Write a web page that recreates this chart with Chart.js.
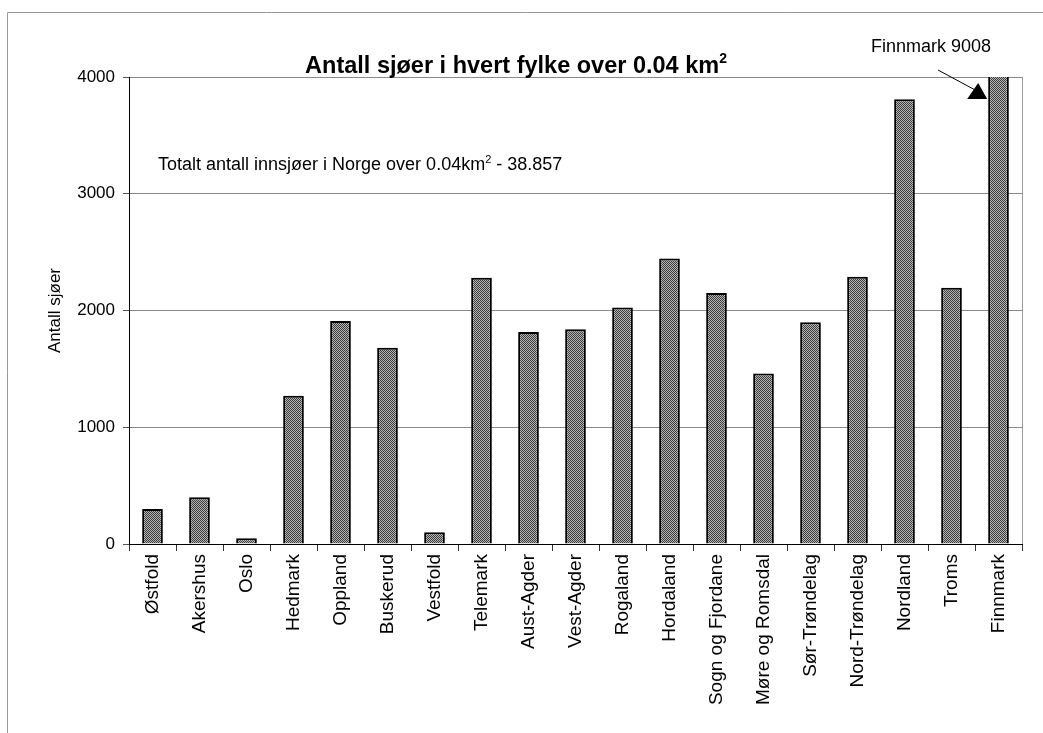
<!DOCTYPE html>
<html><head><meta charset="utf-8">
<script src="https://cdn.jsdelivr.net/npm/chart.js@4"></script>
<style>html,body{margin:0;padding:0;background:#fff}#wrap{width:1043px;height:733px;position:relative}</style>
</head><body><div id="wrap"><canvas id="c" width="1043" height="733"></canvas></div>
<script>
const categories = ['Østfold','Akershus','Oslo','Hedmark','Oppland','Buskerud','Vestfold','Telemark','Aust-Agder','Vest-Agder','Rogaland','Hordaland','Sogn og Fjordane','Møre og Romsdal','Sør-Trøndelag','Nord-Trøndelag','Nordland','Troms','Finnmark'];
const lakeCounts = [300,400,50,1270,1910,1680,100,2280,1815,1840,2025,2445,2150,1460,1900,2290,3810,2195,9008];
const yTicks = [0,1000,2000,3000,4000];
const titleText = 'Antall sjøer i hvert fylke over 0.04 km';
const noteText = 'Totalt antall innsjøer i Norge over 0.04km';
const noteTail = ' - 38.857';
const calloutText = 'Finnmark 9008';
const yTitle = 'Antall sjøer';

const FONT = "'Liberation Sans', Arial, sans-serif";

function makePattern() {
  const p = document.createElement('canvas');
  p.width = 2; p.height = 2;
  const g = p.getContext('2d');
  g.fillStyle = '#b4b4b4'; g.fillRect(0,0,2,2);
  g.fillStyle = '#3c3c3c'; g.fillRect(0,0,1,1); g.fillRect(1,1,1,1);
  return document.getElementById('c').getContext('2d').createPattern(p,'repeat');
}

function drawSup(ctx, x, y, base, sup, baseFont, supFont, rise, align) {
  ctx.font = baseFont;
  const w1 = ctx.measureText(base).width;
  ctx.font = supFont;
  const w2 = ctx.measureText(sup).width;
  let sx = x;
  if (align === 'center') sx = x - (w1 + w2) / 2;
  ctx.textAlign = 'left';
  ctx.font = baseFont;
  ctx.fillText(base, sx, y);
  ctx.font = supFont;
  ctx.fillText(sup, sx + w1, y - rise);
  return sx + w1 + w2;
}

const extras = {
  id: 'extras',
  afterDraw(chart) {
    const ctx = chart.ctx;
    const a = chart.chartArea;
    ctx.save();
    ctx.strokeStyle = '#9a9a9a'; ctx.lineWidth = 1;
    ctx.beginPath(); ctx.moveTo(7.5, 733); ctx.lineTo(7.5, 12.5); ctx.lineTo(1043, 12.5); ctx.stroke();
    ctx.beginPath(); ctx.moveTo(Math.round(a.right) + 0.5, a.top); ctx.lineTo(Math.round(a.right) + 0.5, a.bottom); ctx.stroke();
    ctx.fillStyle = '#000';
    ctx.textBaseline = 'alphabetic';
    drawSup(ctx, 516, 73, titleText, '2', 'bold 23.5px ' + FONT, 'bold 14px ' + FONT, 10, 'center');
    const end = drawSup(ctx, 158, 170, noteText, '2', '18px ' + FONT, '11px ' + FONT, 7, 'left');
    ctx.font = '18px ' + FONT;
    ctx.fillText(noteTail, end, 170);
    ctx.font = '18px ' + FONT;
    ctx.fillText(calloutText, 871, 52);
    const meta = chart.getDatasetMeta(0).data[categories.length - 1];
    const barLeft = meta.x - meta.width / 2;
    const tipX = barLeft - 1, tipY = a.top + 22;
    ctx.strokeStyle = '#000'; ctx.lineWidth = 1;
    ctx.beginPath(); ctx.moveTo(938, 70); ctx.lineTo(tipX - 12, tipY - 9); ctx.stroke();
    ctx.beginPath();
    ctx.moveTo(tipX - 20, tipY);
    ctx.lineTo(tipX - 9, tipY - 16);
    ctx.lineTo(tipX, tipY);
    ctx.closePath(); ctx.fill();
    ctx.restore();
  }
};

new Chart(document.getElementById('c'), {
  type: 'bar',
  data: {
    labels: categories,
    datasets: [{
      data: lakeCounts,
      backgroundColor: makePattern(),
      borderColor: '#000',
      borderWidth: 2,
      borderSkipped: 'bottom',
      barPercentage: 0.44,
      categoryPercentage: 1
    }]
  },
  options: {
    responsive: false,
    devicePixelRatio: 1,
    animation: false,
    layout: { padding: { top: 77, right: 21, left: 0, bottom: 0 } },
    plugins: { legend: { display: false }, title: { display: false }, tooltip: { enabled: false } },
    scales: {
      y: {
        min: 0, max: 4000,
        afterBuildTicks: s => { s.ticks = yTicks.map(v => ({ value: v })); },
        ticks: { font: { family: FONT, size: 17 }, color: '#000', padding: 8, callback: v => String(v) },
        grid: { color: '#8a8a8a', lineWidth: 1, tickLength: 6, drawTicks: true, tickColor: '#555' },
        border: { color: '#000', width: 1 },
        title: { display: true, text: yTitle, font: { family: FONT, size: 17 }, color: '#000', padding: { top: 45, bottom: 0 } },
        afterFit: s => { s.width = 129; }
      },
      x: {
        ticks: { font: { family: FONT, size: 19 }, color: '#000', maxRotation: 90, minRotation: 90, padding: 3, autoSkip: false },
        grid: { offset: true, drawOnChartArea: false, drawTicks: true, tickLength: 7, color: '#333' },
        border: { color: '#000', width: 1 },
        afterFit: s => { s.height = 189; }
      }
    }
  },
  plugins: [extras]
});
</script>
</body></html>
